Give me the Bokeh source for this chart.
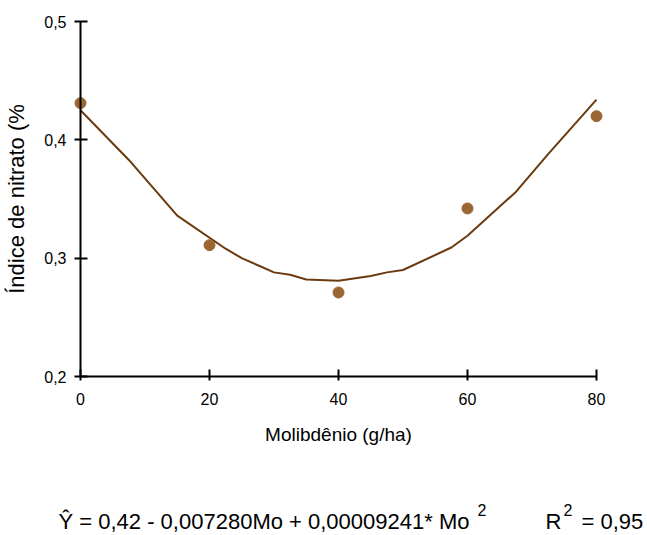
from bokeh.plotting import figure
from bokeh.models import Range1d, LinearAxis, FixedTicker, CustomJSTickFormatter, Label
from bokeh.embed import file_html
from bokeh.resources import INLINE

# ---- data ----
mo_levels = [0, 20, 40, 60, 80]
nitrate_obs = [0.431, 0.311, 0.271, 0.342, 0.420]

curve_x = [0, 7.5, 15, 22.5, 25, 27.5, 30, 32.5, 35, 40, 45, 47.5, 50, 57.5, 60, 67.5, 72.5, 80]
curve_y = [0.425, 0.383, 0.336, 0.308, 0.300, 0.294, 0.288, 0.286, 0.282, 0.281,
           0.285, 0.288, 0.290, 0.309, 0.319, 0.356, 0.388, 0.434]

x_ticks = [0, 20, 40, 60, 80]
y_ticks = [0.2, 0.3, 0.4, 0.5]
x_title = "Molibdênio (g/ha)"
y_title = "Índice de nitrato (%"
eq_main = "Ŷ = 0,42 - 0,007280Mo + 0,00009241* Mo"
eq_sup = "2"
eq_r = "R"
eq_r_val = "= 0,95"

FONT = "Liberation Sans"
LINE_COLOR = "#6b3a0e"
PT_COLOR = "#9c6633"

W, H = 647, 535
PX_X = 6.45      # pixels per x unit
PX_Y = 1183.3    # pixels per y unit
X0_PX = 80       # px of x=0
Y02_PX = 376     # px of y=0.2


def dx(px):
    return (px - X0_PX) / PX_X


def dy(py):
    return 0.2 - (py - Y02_PX) / PX_Y


p = figure(width=W, height=H, output_backend="svg", toolbar_location=None,
           x_axis_type=None, y_axis_type=None,
           x_range=Range1d(dx(0), dx(W)), y_range=Range1d(dy(H), dy(0)),
           min_border=0)
p.outline_line_color = None
p.background_fill_color = "white"
p.border_fill_color = "white"

yax = LinearAxis(fixed_location=0, bounds=(0.2, 0.5),
                 ticker=FixedTicker(ticks=y_ticks),
                 formatter=CustomJSTickFormatter(code="return tick.toFixed(1).replace('.', ',')"),
                 axis_label=y_title)
xax = LinearAxis(fixed_location=0.2, bounds=(0, 80),
                 ticker=FixedTicker(ticks=x_ticks),
                 axis_label=x_title)

for ax in (xax, yax):
    ax.axis_line_width = 2
    ax.axis_line_color = "black"
    ax.major_tick_line_width = 2
    ax.major_tick_line_color = "black"
    ax.minor_tick_line_color = None
    ax.major_label_text_font = FONT
    ax.major_label_text_font_size = "16px"
    ax.major_label_text_color = "black"
    ax.axis_label_text_font = FONT
    ax.axis_label_text_font_style = "normal"
    ax.axis_label_text_color = "black"

yax.major_tick_in = 7
yax.major_tick_out = 6
yax.major_label_standoff = 8
yax.axis_label_text_font_size = "22px"
yax.axis_label_standoff = 12

xax.major_tick_in = 7
xax.major_tick_out = 4
xax.major_label_standoff = 12
xax.axis_label_text_font_size = "19px"
xax.axis_label_standoff = 16

p.add_layout(yax, "left")
p.add_layout(xax, "below")

p.line(curve_x, curve_y, line_color=LINE_COLOR, line_width=2)
p.scatter(mo_levels, nitrate_obs, size=11, fill_color=PT_COLOR, line_color=PT_COLOR)

for txt, px, py, fs in [(eq_main, 58, 521, "22px"), (eq_sup, 477, 509, "16px"),
                        (eq_r, 545, 521, "22px"), (eq_sup, 563, 509, "16px"),
                        (eq_r_val, 581, 521, "22px")]:
    p.add_layout(Label(x=dx(px), y=dy(py), text=txt, text_font=FONT, text_font_size=fs,
                       text_color="black", text_baseline="alphabetic", text_align="left"))

open("out.html", "w").write(file_html(p, INLINE))
